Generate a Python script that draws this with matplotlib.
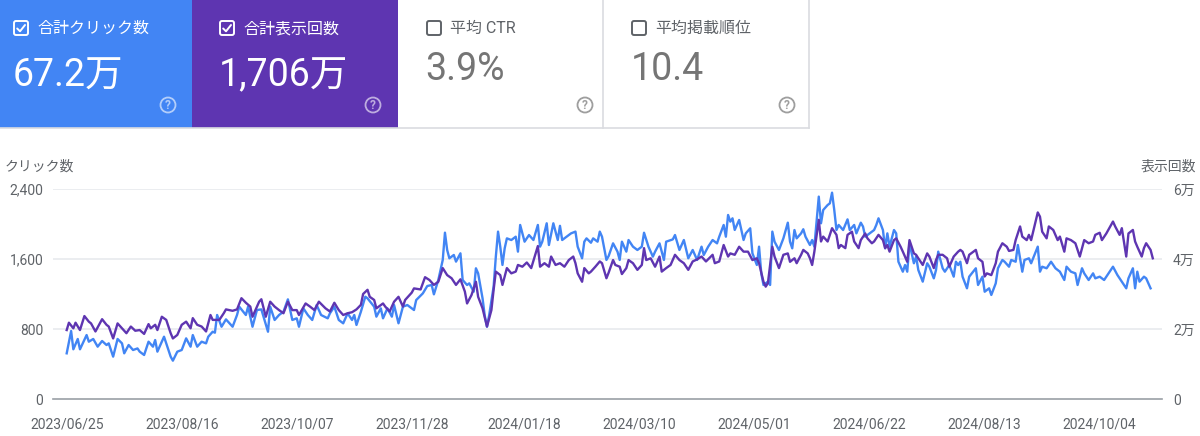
import numpy as np
import pandas as pd
import matplotlib
matplotlib.use("Agg")
import matplotlib.pyplot as plt
from matplotlib.patches import Rectangle, FancyBboxPatch, Circle

plt.rcParams['font.family'] = ['Roboto', 'Noto Sans CJK JP', 'DejaVu Sans']

# ---------------- data ----------------
start_date = '2023-06-25'

click_days = [0, 2, 3, 5, 6, 9, 10, 12, 14, 16, 18, 19, 21, 23, 25, 26, 28, 30, 32, 33, 35, 37, 39, 40, 41, 44, 45, 47, 48, 50,
              52, 54, 56, 57, 59, 61, 63, 64, 66, 67, 68, 70, 72, 75, 77, 78, 81, 82, 84, 86, 88, 91, 92, 94, 96, 98, 100, 102, 104, 105,
              107, 109, 111, 113, 115, 118, 119, 121, 123, 125, 127, 129, 130, 131, 133, 135, 136, 139, 140, 142, 143, 145, 147, 148, 150,
              152, 154, 156, 157, 158, 161, 163, 165, 166, 168, 170, 171, 172, 173, 175, 176, 178, 179, 181, 182, 184, 185, 186, 188, 189,
              190, 191, 193, 194, 195, 196, 197, 198, 199, 201, 203, 204, 205, 207, 209, 211, 213, 214, 215, 217, 218, 220, 222, 223, 224,
              226, 228, 230, 231, 233, 234, 235, 237, 238, 240, 241, 242, 244, 245, 247, 249, 250, 251, 253, 254, 256, 258, 260, 261, 263,
              265, 266, 268, 270, 271, 274, 275, 277, 279, 281, 283, 285, 287, 288, 290, 292, 294, 295, 297, 298, 299, 300, 301, 302, 304,
              306, 307, 309, 310, 312, 313, 314, 315, 317, 318, 319, 320, 322, 324, 326, 327, 328, 329, 330, 332, 333, 334, 336, 337, 338,
              340, 341, 342, 344, 345, 346, 347, 348, 349, 351, 353, 354, 356, 357, 359, 360, 361, 363, 365, 366, 367, 369, 370, 371, 372,
              374, 375, 376, 378, 379, 380, 381, 383, 384, 385, 387, 389, 390, 392, 393, 394, 396, 397, 399, 401, 402, 403, 404, 405, 407,
              408, 411, 412, 414, 415, 417, 418, 420, 421, 423, 424, 426, 427, 429, 430, 432, 433, 435, 436, 439, 440, 441, 443, 445, 447,
              449, 451, 452, 454, 456, 457, 459, 460, 462, 464, 465, 467, 469, 471, 473, 475, 476, 477, 479, 480, 482, 483, 484, 485, 487,
              488, 490]
clicks = [522, 777, 568, 686, 568, 731, 655, 686, 598, 663, 617, 636, 484, 686, 636, 522, 617, 560, 578, 541, 503, 655, 598, 674, 541, 712, 636, 484, 438, 541,
          560, 693, 598, 731, 598, 655, 636, 712, 769, 758, 960, 826, 910, 826, 960, 1055, 960, 1055, 826, 1017, 1024, 769, 1055, 903, 960, 998, 1139, 903, 922, 826,
          1036, 960, 903, 1074, 960, 922, 979, 1055, 903, 865, 979, 903, 960, 846, 998, 1169, 1150, 1055, 941, 1036, 922, 1036, 941, 1074, 865,
          1055, 1074, 1036, 1017, 1131, 1207, 1291, 1303, 1196, 1360, 1589, 1901, 1703, 1608, 1646, 1570, 1665, 1360, 1303, 1322, 1226, 1494, 1436, 1150, 950,
          826, 960, 1284, 1627, 1913, 1741, 1532, 1722, 1836, 1817, 1855, 1684, 1989, 1798, 1874, 1817, 1989, 1741, 1798, 2008, 1760, 2008, 1817, 1979, 1817,
          1855, 1893, 1913, 1741, 1608, 1798, 1836, 1786, 1836, 1798, 1913, 1855, 1589, 1634, 1779, 1684, 1589, 1798, 1684, 1817, 1741, 1703, 1741, 1900, 1741,
          1627, 1684, 1779, 1589, 1798, 1824, 1874, 1703, 1817, 1608, 1703, 1589, 1741, 1646, 1741, 1817, 1779, 1855, 1989, 1855, 2103, 2027, 2065, 1932, 2046,
          1817, 1893, 1951, 1665, 1532, 1741, 1436, 1303, 1341, 1303, 1913, 1798, 1703, 1836, 2015, 1798, 1722, 1931, 1836, 1893, 1940, 1855, 1760, 1817, 1741,
          2313, 2008, 2160, 2217, 2236, 2358, 2160, 1931, 1989, 1931, 2053, 1931, 1989, 1893, 2015, 1970, 1855, 1893, 1931, 1989, 2065, 1931, 1722, 1893, 1741,
          1931, 1893, 1569, 1455, 1531, 1455, 1779, 1551, 1627, 1474, 1341, 1551, 1512, 1379, 1474, 1684, 1494, 1455, 1531, 1398, 1569, 1531, 1569, 1398, 1265,
          1398, 1494, 1303, 1398, 1226, 1265, 1189, 1322, 1494, 1589, 1569, 1512, 1589, 1569, 1760, 1455, 1589, 1608, 1551, 1741, 1455, 1512, 1494, 1569, 1494,
          1455, 1360, 1512, 1455, 1436, 1303, 1494, 1436, 1360, 1436, 1379, 1398, 1360, 1436, 1512, 1417, 1379, 1341, 1265, 1379, 1494, 1265, 1455, 1341, 1398,
          1379, 1265]

imp_days = [0, 1, 3, 4, 6, 8, 10, 11, 13, 16, 18, 19, 21, 23, 25, 27, 29, 31, 33, 35, 37, 38, 40, 41, 43, 45, 47, 48, 50, 52,
            54, 56, 57, 59, 61, 63, 65, 66, 69, 71, 72, 75, 77, 79, 81, 83, 84, 87, 88, 90, 92, 94, 96, 98, 100, 102, 104, 105, 108, 110,
            112, 114, 117, 119, 121, 123, 125, 127, 129, 131, 133, 134, 136, 137, 139, 140, 143, 144, 146, 148, 150, 152, 153, 156, 157,
            160, 162, 164, 166, 168, 170, 172, 174, 176, 178, 180, 181, 183, 185, 186, 188, 190, 192, 193, 194, 196, 197, 199, 201, 203,
            204, 206, 208, 210, 213, 214, 216, 218, 219, 221, 223, 225, 227, 229, 230, 231, 233, 234, 236, 237, 239, 241, 242, 244, 245,
            247, 248, 250, 251, 253, 254, 256, 258, 260, 261, 262, 264, 266, 268, 269, 271, 273, 275, 277, 279, 281, 283, 285, 287, 289,
            292, 293, 295, 297, 299, 300, 302, 304, 306, 308, 310, 312, 313, 315, 316, 317, 319, 320, 322, 324, 326, 327, 329, 330, 332,
            333, 335, 336, 337, 338, 340, 341, 342, 344, 345, 346, 348, 349, 350, 352, 353, 355, 356, 358, 359, 361, 362, 364, 365, 367,
            369, 370, 371, 372, 374, 375, 377, 378, 380, 381, 383, 384, 385, 387, 389, 390, 392, 393, 394, 396, 398, 399, 401, 403, 404,
            405, 407, 408, 411, 412, 414, 415, 416, 418, 420, 421, 423, 425, 426, 428, 429, 431, 432, 434, 435, 436, 439, 440, 441, 443,
            444, 446, 448, 449, 451, 452, 454, 456, 458, 460, 462, 464, 465, 467, 468, 470, 473, 474, 476, 477, 479, 480, 482, 483, 484,
            486, 487, 488, 490, 491]
impressions = [19700, 21800, 20200, 21800, 19700, 23700, 22100, 21600, 19300, 22800, 21200, 20700, 17300, 21600, 20200, 18800, 20700, 19500, 19700, 18600,
               21400, 20200, 21200, 19700, 23500, 22600, 18800, 17300, 18300, 21200, 22100, 20200, 23100, 21200, 20700, 19300, 24000, 22600, 22600, 24500,
               25600, 25200, 25600, 28800, 27500, 26400, 23500, 27800, 28500, 23500, 27800, 26400, 25400, 24500, 27800, 25400, 25400, 24000, 27300, 26400,
               25400, 27800, 25900, 25000, 27500, 25400, 24000, 24500, 24800, 25600, 26900, 30000, 31200, 29200, 28300, 25900, 27300, 26400, 25000, 27800,
               29200, 26400, 28300, 30400, 31600, 31300, 34800, 34000, 32600, 33500, 37400, 35400, 34500, 32600, 34200, 30700, 27300, 29700, 33500, 29200,
               25900, 20700, 25400, 31200, 36400, 35400, 32600, 37400, 35900, 36400, 38300, 37800, 39000, 37400, 43700, 37800, 38800, 37800, 40700, 38300,
               38800, 37800, 39700, 40700, 38800, 35900, 33500, 37400, 35900, 36400, 37800, 39300, 38800, 34500, 36100, 39700, 38300, 37800, 35700, 37400,
               39700, 38800, 36900, 38300, 43100, 39700, 40200, 37800, 40700, 36400, 37400, 38300, 41200, 39700, 38800, 36900, 39300, 39900, 40700, 39300,
               41200, 38800, 39300, 44000, 40700, 41600, 41200, 43500, 42100, 42100, 39700, 40200, 38800, 33500, 32100, 33100, 43500, 40700, 37400, 41200,
               41600, 39200, 40200, 38800, 41200, 42600, 41600, 40200, 38300, 42100, 51200, 45000, 46400, 45000, 46900, 48800, 46900, 43100, 44000, 43100,
               46900, 47800, 45000, 43100, 45400, 47300, 45900, 44500, 45000, 46900, 45400, 43100, 44000, 42100, 45400, 45900, 43500, 42100, 39200, 45400,
               41600, 41200, 40200, 38300, 41600, 40700, 37400, 39700, 41200, 41200, 40200, 37800, 40700, 42100, 42600, 42100, 38800, 41200, 42600, 40200,
               39200, 35000, 35900, 35400, 38800, 42100, 44500, 43500, 42300, 42600, 45400, 49300, 46400, 45400, 46900, 45400, 53300, 52100, 47800, 45900,
               49300, 48300, 45400, 46400, 42100, 45900, 45400, 44500, 40700, 45400, 44500, 45000, 46900, 47500, 45400, 47300, 50700, 49300, 46900, 48800,
               40700, 47300, 48300, 45000, 43500, 40700, 43100, 44500, 42600, 40200]

x_tick_labels = ['2023/06/25', '2023/08/16', '2023/10/07', '2023/11/28', '2024/01/18',
                 '2024/03/10', '2024/05/01', '2024/06/22', '2024/08/13', '2024/10/04']
left_ticks = [0, 800, 1600, 2400]
left_tick_labels = ['0', '800', '1,600', '2,400']
right_ticks = [0, 20000, 40000, 60000]
right_tick_labels = ['0', '2万', '4万', '6万']

card_titles = ['合計クリック数', '合計表示回数', '平均 CTR', '平均掲載順位']
card_values = ['67.2万', '1,706万', '3.9%', '10.4']
card_checked = [True, True, False, False]
left_axis_title = 'クリック数'
right_axis_title = '表示回数'

# ---------------- figure ----------------
W, H = 1200, 436
fig = plt.figure(figsize=(W / 100, H / 100), dpi=100)
fig.patch.set_facecolor('white')

bg = fig.add_axes([0, 0, 1, 1], zorder=0)
bg.set_xlim(0, W)
bg.set_ylim(H, 0)
bg.axis('off')

card_x = [0, 192, 398, 603]
card_w = [192, 206, 205, 206]
card_fill = ['#4285F4', '#5E35B1', 'white', 'white']
card_fg = ['white', 'white', '#5f6368', '#5f6368']
num_color = ['white', 'white', '#757575', '#757575']
box_x = [14, 220, 427, 632]
label_x = [37, 243, 450, 655]
num_x = [13, 219, 425, 631]
num_y = [76, 76, 69, 69]
help_x = [168, 373, 585, 787]
card_h = 128

for i in range(4):
    bg.add_patch(Rectangle((card_x[i], 0), card_w[i], card_h, facecolor=card_fill[i],
                           edgecolor='none', zorder=1))
# borders
bg.plot([0, 809], [card_h + 0.5, card_h + 0.5], color='#dadce0', lw=1.2, zorder=2)
for xv in [603, 809]:
    bg.plot([xv, xv], [0, card_h], color='#dadce0', lw=1.2, zorder=2)

for i in range(4):
    fg = card_fg[i]
    # checkbox
    bx, by, bs = box_x[i], 21, 14
    bg.add_patch(FancyBboxPatch((bx, by), bs, bs, boxstyle='round,pad=0,rounding_size=2',
                                facecolor='none', edgecolor=fg, lw=1.4, zorder=3))
    if card_checked[i]:
        bg.plot([bx + 3.2, bx + 6, bx + 11], [by + 7.5, by + 10.3, by + 4], color=fg,
                lw=1.4, zorder=4, solid_capstyle='round')
    bg.text(label_x[i], by + bs / 2 + 0.5, card_titles[i], color=fg, fontsize=11.5,
            ha='left', va='center', zorder=4)
    bg.text(num_x[i], num_y[i], card_values[i], color=num_color[i], fontsize=27,
            ha='left', va='center', zorder=4)
    # help icon
    hc = (1, 1, 1, 0.6) if i < 2 else '#9e9e9e'
    bg.add_patch(Circle((help_x[i], 105), 7.5, facecolor='none', edgecolor=hc, lw=1.3, zorder=4))
    bg.text(help_x[i], 105.5, '?', color=hc, fontsize=8.5, ha='center', va='center', zorder=4,
            fontweight='bold')

# ---------------- chart ----------------
x_left_px, x_right_px = 53, 1162
y_top_px, y_bot_px = 189, 399
ax = fig.add_axes([x_left_px / W, 1 - y_bot_px / H, (x_right_px - x_left_px) / W,
                   (y_bot_px - y_top_px) / H], zorder=2)
ax.set_facecolor('none')

px_per_day = 2.212
day0_px = 66.7
ax.set_xlim((x_left_px - day0_px) / px_per_day, (x_right_px - day0_px) / px_per_day)
ax.set_ylim(0, 2400)

start = pd.Timestamp(start_date)
tick_pos = [(pd.Timestamp(l.replace('/', '-')) - start).days for l in x_tick_labels]
ax.set_xticks(tick_pos)
ax.set_xticklabels(x_tick_labels)
ax.set_yticks(left_ticks)
ax.set_yticklabels(left_tick_labels)

for v in left_ticks[1:]:
    ax.axhline(v, color='#e8eaed', lw=1.2, zorder=0)
for s in ['top', 'right', 'left']:
    ax.spines[s].set_visible(False)
ax.spines['bottom'].set_color('#9aa0a6')
ax.spines['bottom'].set_linewidth(1.2)
ax.tick_params(axis='both', length=0, colors='#5f6368', labelsize=10)
ax.tick_params(axis='x', pad=13)
ax.tick_params(axis='y', pad=7)

ax.plot(click_days, clicks, color='#4285F4', lw=1.7, zorder=3, solid_joinstyle='round')

ax2 = ax.twinx()
ax2.set_ylim(0, 60000)
ax2.set_yticks(right_ticks)
ax2.set_yticklabels(right_tick_labels)
for s in ['top', 'right', 'left', 'bottom']:
    ax2.spines[s].set_visible(False)
ax2.tick_params(axis='y', length=0, colors='#5f6368', labelsize=10, pad=8)
ax2.plot(imp_days, impressions, color='#5E35B1', lw=1.7, zorder=3, solid_joinstyle='round')

bg.text(5, 167, left_axis_title, color='#5f6368', fontsize=10, ha='left', va='center')
bg.text(1196, 167, right_axis_title, color='#5f6368', fontsize=10, ha='right', va='center')

fig.savefig('out.png', dpi=100, facecolor='white')
